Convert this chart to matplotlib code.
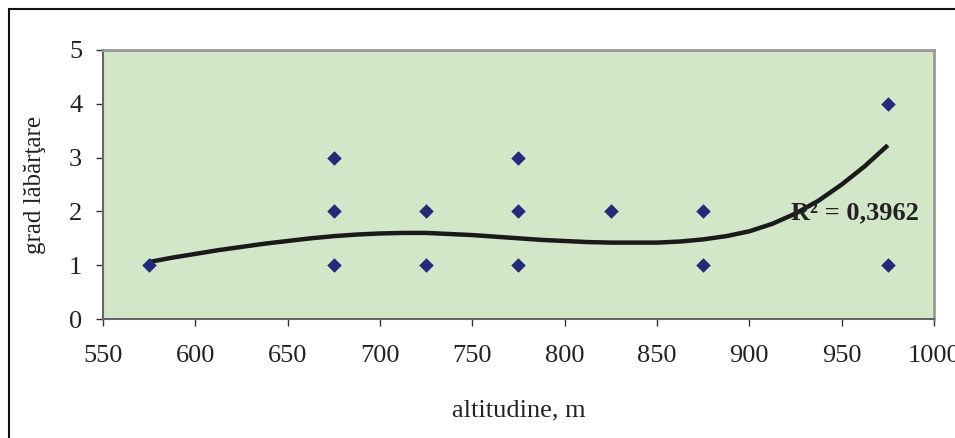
import matplotlib
matplotlib.use("Agg")
import matplotlib.pyplot as plt
from matplotlib.patches import Rectangle

# Observed points
alt = [575, 675, 675, 675, 725, 725, 775, 775, 775, 825, 875, 875, 975, 975]
grad = [1, 3, 2, 1, 2, 1, 3, 2, 1, 2, 2, 1, 4, 1]

# Trendline values
trend_x = [575, 587.5, 600, 612.5, 625, 637.5, 650, 662.5, 675, 687.5, 700, 712.5, 725, 737.5,
           750, 762.5, 775, 787.5, 800, 812.5, 825, 837.5, 850, 862.5, 875, 887.5, 900, 912.5,
           925, 937.5, 950, 962.5, 975]
trend_y = [1.06, 1.14, 1.21, 1.28, 1.34, 1.40, 1.45, 1.50, 1.54, 1.57, 1.59, 1.60, 1.60, 1.58,
           1.56, 1.53, 1.50, 1.47, 1.45, 1.43, 1.42, 1.42, 1.42, 1.44, 1.48, 1.54, 1.63, 1.77,
           1.96, 2.20, 2.50, 2.84, 3.23]

r2_text = "R² = 0,3962"
x_ticks = [550, 600, 650, 700, 750, 800, 850, 900, 950, 1000]
y_ticks = [0, 1, 2, 3, 4, 5]
xlabel = "altitudine, m"
ylabel = "grad lăbărţare"

plt.rcParams['font.family'] = ['Liberation Serif', 'DejaVu Serif']

fig = plt.figure(figsize=(9.55, 4.38), dpi=100)
ax = fig.add_axes([103/955, 1-319/438, (934-103)/955, (319-50)/438])
ax.set_facecolor('#d1e7c8')

ax.plot(trend_x, trend_y, color='#1a1a1a', lw=3.2, solid_capstyle='butt', zorder=2)
ax.scatter(alt, grad, marker='D', s=55, color='#232a7a', zorder=3, linewidths=0)

ax.set_xlim(550, 1000)
ax.set_ylim(0, 5)
ax.set_xticks(x_ticks)
ax.set_yticks(y_ticks)
ax.tick_params(axis='both', direction='out', length=5, width=1, color='#333333',
               labelsize=19, labelcolor='#222222')
ax.tick_params(axis='x', pad=14)
ax.tick_params(axis='y', pad=10)
for s in ['top', 'right']:
    ax.spines[s].set_color('#999999')
    ax.spines[s].set_linewidth(2)
for s in ['left', 'bottom']:
    ax.spines[s].set_color('#666666')
    ax.spines[s].set_linewidth(1.5)

ax.set_xlabel(xlabel, fontsize=19, color='#222222')
ax.xaxis.set_label_coords(0.5, -(410-319)/269, transform=ax.transAxes)
ax.xaxis.label.set_va('center')
ax.set_ylabel(ylabel, fontsize=18, color='#222222')
ax.yaxis.set_label_coords(-(103-35)/831, 0.5, transform=ax.transAxes)
ax.yaxis.label.set_va('center')

ax.text(957, 1.97, r2_text, fontsize=19, fontweight='bold', color='#222222',
        ha='center', va='center', zorder=4)

fig.patches.append(Rectangle((9/955, -0.1), 1.2, 1-9/438+0.1, transform=fig.transFigure,
                             fill=False, edgecolor='#111111', lw=1.5, zorder=0))

fig.savefig('out.png', dpi=100)
